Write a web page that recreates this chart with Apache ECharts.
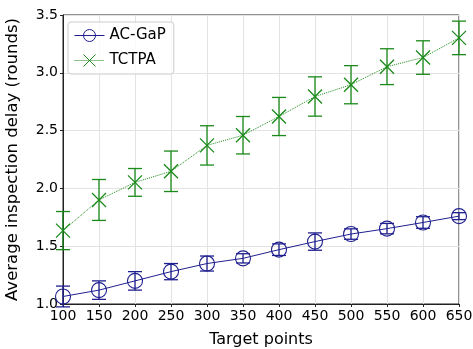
<!DOCTYPE html>
<html>
<head>
<meta charset="utf-8">
<script src="https://cdn.jsdelivr.net/npm/echarts@6/dist/echarts.min.js"></script>
<style>html,body{margin:0;padding:0;background:#fff}</style>
</head>
<body>
<div id="container" style="width:473px;height:349px"></div>
<script type="text/javascript">
// data
var points = [100, 150, 200, 250, 300, 350, 400, 450, 500, 550, 600, 650];
var acgap = [1.065, 1.12, 1.2, 1.28, 1.35, 1.395, 1.47, 1.54, 1.605, 1.652, 1.705, 1.76];
var acgapErr = [0.09, 0.08, 0.08, 0.07, 0.065, 0.04, 0.05, 0.075, 0.045, 0.045, 0.05, 0.03];
var tctpa = [1.635, 1.9, 2.052, 2.148, 2.372, 2.46, 2.622, 2.795, 2.897, 3.053, 3.132, 3.302];
var tctpaErr = [0.165, 0.177, 0.12, 0.175, 0.17, 0.162, 0.165, 0.17, 0.165, 0.155, 0.145, 0.145];

var blue = '#1f1f8f';
var green = '#1a8a1a';
var xMark = 'path://M0,0 L10,10 M10,0 L0,10';

function pairs(xs, ys) {
    var out = [];
    for (var i = 0; i < xs.length; i++) out.push([xs[i], ys[i]]);
    return out;
}
function errData(xs, ys, es) {
    var out = [];
    for (var i = 0; i < xs.length; i++) out.push([xs[i], ys[i] - es[i], ys[i] + es[i]]);
    return out;
}
function errSeries(data, color) {
    return {
        type: 'custom',
        data: data,
        silent: true,
        z: 3,
        renderItem: function (params, api) {
            var lo = api.coord([api.value(0), api.value(1)]);
            var hi = api.coord([api.value(0), api.value(2)]);
            var w = 7;
            var st = { stroke: color, lineWidth: 1.3 };
            return {
                type: 'group',
                children: [
                    { type: 'line', shape: { x1: lo[0], y1: lo[1], x2: hi[0], y2: hi[1] }, style: st },
                    { type: 'line', shape: { x1: lo[0] - w, y1: lo[1], x2: lo[0] + w, y2: lo[1] }, style: st },
                    { type: 'line', shape: { x1: hi[0] - w, y1: hi[1], x2: hi[0] + w, y2: hi[1] }, style: st }
                ]
            };
        },
        encode: { x: 0, y: [1, 2] }
    };
}

var myChart = echarts.init(document.getElementById('container'));
var font = 'DejaVu Sans';
var option = {
    animation: false,
    textStyle: { fontFamily: font },
    grid: {
        left: 63, right: 14, top: 15, bottom: 45,
        outerBoundsMode: 'none', containLabel: false,
        show: true, borderColor: '#222', borderWidth: 1
    },
    legend: {
        left: 68, top: 22,
        orient: 'vertical',
        itemWidth: 30, itemHeight: 15, itemGap: 8,
        padding: [5, 8, 5, 6],
        borderColor: '#ccc', borderWidth: 1, borderRadius: 3,
        backgroundColor: 'rgba(255,255,255,0.8)',
        itemStyle: { borderWidth: 1 },
        textStyle: { fontFamily: font, fontSize: 15, color: '#000' },
        data: [
            { name: 'AC-GaP', lineStyle: { width: 1, type: 'solid' } },
            { name: 'TCTPA', lineStyle: { width: 1, type: 'dotted' } }
        ]
    },
    xAxis: {
        type: 'value', min: 100, max: 650, interval: 50,
        name: 'Target points', nameLocation: 'middle', nameGap: 28,
        nameTextStyle: { fontSize: 16, color: '#000', fontFamily: font },
        axisLine: { lineStyle: { color: '#222' } },
        axisTick: { length: 3, lineStyle: { color: '#222' } },
        axisLabel: { fontSize: 14, color: '#000', margin: 5 },
        splitLine: { lineStyle: { color: '#e3e3e3' } }
    },
    yAxis: {
        type: 'value', min: 1.0, max: 3.5, interval: 0.5,
        name: 'Average inspection delay (rounds)', nameLocation: 'middle', nameGap: 42,
        nameTextStyle: { fontSize: 16.5, color: '#000', fontFamily: font },
        axisLine: { show: true, lineStyle: { color: '#222' } },
        axisTick: { show: true, length: 3, lineStyle: { color: '#222' } },
        axisLabel: { fontSize: 14, color: '#000', margin: 5, formatter: function (v) { return v.toFixed(1); } },
        splitLine: { lineStyle: { color: '#e3e3e3' } }
    },
    series: [
        {
            name: 'AC-GaP', type: 'line', data: pairs(points, acgap),
            symbol: 'circle', symbolSize: 15, showAllSymbol: true, z: 4,
            lineStyle: { color: blue, width: 1 },
            itemStyle: { color: 'none', borderColor: blue, borderWidth: 1.1, opacity: 1 }
        },
        {
            name: 'TCTPA', type: 'line', data: pairs(points, tctpa),
            symbol: xMark, symbolSize: 14, showAllSymbol: true, z: 4,
            lineStyle: { color: green, width: 1, type: 'dotted' },
            itemStyle: { color: 'none', borderColor: green, borderWidth: 1.3 }
        },
        errSeries(errData(points, acgap, acgapErr), blue),
        errSeries(errData(points, tctpa, tctpaErr), green)
    ]
};
myChart.setOption(option);
</script>
</body>
</html>
